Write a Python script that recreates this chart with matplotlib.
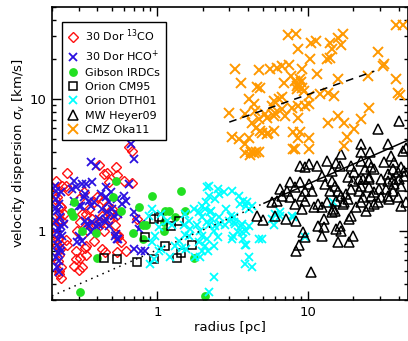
import numpy as np
import matplotlib
matplotlib.use("Agg")
import matplotlib.pyplot as plt
from matplotlib.ticker import FixedLocator, LogLocator, NullFormatter, FixedFormatter

# === dados (raio [pc], dispersao [km/s]) ===
r_13co = [0.647, 0.678, 0.41, 0.252, 0.464, 0.53, 0.54, 0.678, 0.60, 0.248, 0.256, 0.326, 0.302, 0.398,
          0.442, 0.464, 0.50, 0.49, 0.53, 0.478, 0.352, 0.335, 0.368, 0.422, 0.442, 0.392, 0.362, 0.429,
          0.53, 0.55, 0.575, 0.233, 0.24, 0.248, 0.252, 0.335, 0.289, 0.335, 0.28, 0.316, 0.289, 0.223,
          0.23, 0.618, 0.213, 0.216, 0.216, 0.23, 0.223, 0.213, 0.216, 0.223, 0.22, 0.23, 0.223, 0.233,
          0.226, 0.38, 0.316, 0.306, 0.357, 0.293, 0.316, 0.331, 0.306, 0.302, 0.38, 0.429, 0.45, 0.54,
          0.732, 0.52, 0.55, 0.442, 0.478, 0.21, 0.22, 0.21, 0.22, 0.226]
s_13co = [4.32, 4.03, 3.15, 2.74, 2.74, 3.05, 2.65, 2.30, 2.38, 2.19, 2.03, 1.97, 1.74, 1.80,
          1.68, 1.54, 1.46, 1.34, 1.29, 1.23, 1.46, 1.34, 1.23, 1.17, 1.0, 1.11, 1.11, 1.29,
          0.944, 0.90, 0.82, 1.19, 1.34, 0.85, 0.79, 0.77, 0.70, 0.66, 0.54, 0.53, 0.61, 0.50,
          0.44, 0.70, 2.38, 2.07, 1.80, 1.51, 1.34, 0.944, 0.79, 0.66, 0.59, 0.53, 0.47, 2.19,
          1.54, 1.65, 1.34, 1.17, 1.09, 1.0, 0.94, 0.75, 0.63, 0.51, 0.835, 0.73, 0.69, 0.69,
          1.23, 1.11, 0.94, 2.71, 2.34, 1.74, 1.19, 1.07, 0.865, 0.726]

r_hco = [0.665, 0.70, 0.362, 0.392, 0.28, 0.335, 0.289, 0.457, 0.492, 0.213, 0.23, 0.326, 0.352, 0.31,
         0.362, 0.422, 0.457, 0.478, 0.54, 0.582, 0.618, 0.429, 0.464, 0.50, 0.515, 0.55, 0.457, 0.70,
         0.72, 0.78, 0.755, 0.341, 0.368, 0.392, 0.41, 0.362, 0.23, 0.24, 0.216, 0.233, 0.302, 0.316,
         0.293, 0.53, 0.54, 0.70, 0.78, 0.827, 0.216, 0.23, 0.223, 0.213, 0.272, 0.316, 0.368, 0.331,
         0.28, 0.38, 0.302, 0.60, 0.647, 0.41, 0.45, 0.478, 0.331, 0.352, 0.52, 0.55,
         0.213, 0.223, 0.216, 0.226, 0.213, 0.22, 0.226, 0.216, 0.223, 0.21, 0.22, 0.213, 0.226, 0.22]
s_hco = [4.56, 3.5, 3.32, 3.10, 2.38, 2.26, 2.15, 2.15, 1.97, 2.0, 1.97, 1.80, 1.68, 1.54,
         1.54, 1.90, 1.80, 1.65, 1.74, 1.6, 1.68, 1.46, 1.39, 1.46, 1.29, 1.34, 1.23, 1.39,
         1.23, 1.13, 1.03, 1.13, 1.17, 1.09, 1.11, 0.98, 1.09, 1.13, 0.98, 0.91, 0.91, 0.835,
         0.82, 0.944, 0.865, 0.726, 0.70, 0.70, 0.79, 0.70, 0.59, 0.64, 2.07, 2.26, 2.34, 1.90,
         1.68, 1.65, 1.54, 1.83, 2.26, 1.23, 1.17, 1.09, 1.19, 1.09, 0.91, 0.865,
         1.74, 1.60, 1.43, 1.27, 1.19, 0.865, 0.75, 0.53, 0.49, 2.2, 1.05, 1.5, 0.95, 0.68]

r_gibson = [0.53, 0.92, 0.51, 0.575, 0.755, 0.28, 0.268, 0.276, 0.316, 0.392, 0.69, 0.80, 0.84,
            0.80, 0.398, 0.306, 1.43, 1.12, 1.19, 1.52, 1.31, 1.10, 1.10, 1.74, 2.06]
s_gibson = [2.38, 1.83, 1.80, 1.41, 1.51, 1.65, 1.39, 1.31, 1.0, 0.96, 0.96, 1.11, 1.11,
            0.865, 0.63, 0.343, 2.0, 1.41, 1.41, 1.41, 1.27, 1.17, 1.0, 0.63, 0.32]

r_cm95 = [0.442, 0.54, 0.732, 0.95, 0.83, 0.95, 1.02, 1.12, 1.23, 1.39, 1.35, 1.43, 1.69]
s_cm95 = [0.63, 0.61, 0.58, 0.61, 0.90, 1.23, 1.27, 0.77, 1.09, 1.19, 0.63, 0.68, 0.79]

r_dth01 = [2.13, 2.19, 2.52, 2.56, 2.75, 3.11, 2.41, 2.19, 2.09, 3.46, 3.68, 3.92, 3.51, 3.86, 4.04,
           1.74, 1.97, 1.88, 2.06, 2.23, 2.26, 1.97, 2.30, 2.13, 2.56, 2.6, 2.41, 2.8, 2.97, 3.2,
           2.84, 3.06, 3.2, 3.57, 3.41, 3.86, 3.68, 3.86, 3.16, 3.26, 3.63, 4.04, 3.63,
           1.52, 1.61, 1.5, 1.64, 1.52, 1.39, 1.45, 1.31, 1.82, 1.61, 1.56, 1.21,
           1.91, 1.97, 2.13, 1.88, 2.06, 1.97, 1.91, 1.77, 2.19, 2.37, 2.52, 2.37, 2.16,
           3.11, 3.8, 4.7, 3.8, 4.22, 4.04, 2.37, 2.19,
           0.96, 1.02, 0.92, 1.15, 1.25, 0.92, 0.88, 1.05, 1.05, 1.02, 0.95, 0.89,
           6.0, 6.47, 5.73, 5.9, 8.0, 4.92, 9.5, 4.22, 6.48, 7.77, 14.7]
s_dth01 = [2.15, 2.19, 2.07, 1.9, 1.97, 2.0, 1.74, 1.83, 1.65, 1.83, 1.68, 1.65, 1.6, 1.54, 1.46,
           1.46, 1.54, 1.39, 1.46, 1.39, 1.41, 1.27, 1.23, 1.17, 1.27, 1.13, 1.09, 1.11, 1.19, 1.27,
           1.46, 1.29, 1.17, 1.09, 0.98, 0.995, 0.865, 0.79, 0.91, 1.13, 1.13, 1.09, 0.98,
           1.34, 1.19, 1.11, 1.03, 0.94, 0.835, 0.75, 0.77, 1.11, 0.91, 0.73, 0.64,
           1.0, 0.91, 0.865, 0.82, 0.77, 0.70, 0.64, 0.64, 1.11, 1.0, 0.90, 0.77, 0.70,
           0.865, 0.79, 0.865, 0.56, 0.53, 0.64, 0.445, 0.343,
           0.91, 1.07, 0.82, 1.19, 1.11, 1.46, 1.29, 1.34, 0.726, 0.70, 0.61, 0.56,
           1.34, 1.39, 1.23, 1.11, 1.27, 0.865, 0.90, 1.54, 1.29, 1.29, 1.65]

r_heyer = [40.3, 29.3, 22.6, 34.1, 44.8, 25.9, 22.6, 16.6, 42.8, 13.3, 10.2, 11.4, 9.5, 8.8,
           15.4, 16.2, 14.3, 19.4, 20.3, 18.5, 20.0, 21.6, 22.6, 23.7, 25.2, 26.3, 27.5, 25.5, 23.3,
           25.2, 32.0, 35.7, 37.4, 36.8, 34.1, 39.7, 41.5, 43.4, 40.3, 43.4, 36.8, 34.1, 30.6,
           12.3, 14.3, 12.9, 15.0, 13.9, 7.55, 8.78, 10.1, 8.14, 9.5, 10.55, 9.06,
           6.48, 7.2, 6.68, 5.73, 6.18, 7.55, 9.5, 8.14, 9.06, 10.9, 11.7, 12.3, 13.3,
           15.9, 16.6, 17.9, 17.4, 15.4, 14.7, 14.3, 17.1, 18.5, 15.0,
           19.4, 21.6, 22.6, 25.2, 23.3, 26.3, 27.5, 30.6, 34.1, 29.7, 33.0, 36.8, 37.4, 41.5, 39.7,
           34.6, 29.3, 25.2, 22.6, 20.9, 24.4, 27.5, 41.5, 44.8,
           4.55, 5.0, 6.0, 7.1, 8.26, 9.2, 9.5, 8.65, 8.26,
           12.7, 11.7, 12.7, 12.3, 19.4, 18.8, 16.2, 15.4, 16.6, 15.9, 18.8, 20.0, 10.4]
s_heyer = [6.8, 5.9, 4.6, 4.55, 4.3, 4.0, 3.96, 3.82, 4.03, 3.38, 3.2, 3.1, 3.04, 3.1,
           3.3, 3.1, 2.84, 3.1, 2.79, 2.56, 2.38, 2.47, 3.38, 2.94, 3.32, 3.05, 2.94, 2.56, 2.47,
           2.47, 3.32, 3.69, 3.32, 2.94, 2.71, 2.79, 3.05, 2.84, 2.47, 2.6, 2.47, 2.38, 2.47,
           2.6, 2.38, 2.26, 2.19, 2.0, 2.34, 2.34, 2.26, 2.15, 2.0, 2.0, 1.83,
           2.07, 2.0, 1.83, 1.65, 1.68, 1.8, 1.68, 1.6, 1.46, 1.51, 1.6, 1.51, 1.65,
           2.0, 1.83, 1.9, 1.65, 1.68, 1.46, 1.39, 1.6, 1.74, 1.43,
           2.07, 2.0, 2.19, 2.15, 1.80, 1.83, 1.97, 1.80, 1.83, 2.07, 2.07, 2.0, 2.26, 2.19, 1.80,
           1.74, 1.65, 1.54, 1.65, 1.51, 1.41, 1.6, 1.54, 1.65,
           1.29, 1.21, 1.29, 1.23, 1.19, 0.99, 0.9, 0.79, 0.70,
           1.23, 1.09, 1.07, 0.91, 1.29, 1.23, 1.09, 1.03, 0.995, 0.82, 0.82, 0.91, 0.49]

r_oka = [7.4, 8.3, 8.6, 10.5, 11.2, 13.9, 15.9, 17.1, 14.3, 16.6, 10.3, 13.3, 13.9, 3.26, 4.69,
         5.56, 6.19, 6.68, 7.43, 9.06, 11.4, 3.57, 4.77, 7.66, 8.8, 8.6, 9.06, 8.4, 9.4, 6.9,
         6.68, 6.38, 5.9, 4.03, 4.35, 10.1, 12.0, 13.6, 14.9, 15.8, 25.1, 29.2, 32.0, 31.5, 38.5,
         39.7, 40.4, 38.5, 42.8, 25.5, 2.97, 3.8, 4.42, 5.18, 5.73, 6.0, 6.68, 7.77, 8.6, 9.5,
         10.1, 4.22, 4.69, 5.3, 5.9, 7.0, 8.6, 4.54, 4.77, 5.4, 5.9, 3.11, 3.5, 4.03, 3.8,
         4.92, 5.3, 8.0, 8.8, 8.6, 10.1, 13.6, 15.8, 17.4, 20.3, 22.6, 18.0, 17.4, 8.0, 8.2,
         10.1, 3.8, 4.35, 4.69, 4.5, 8.2, 8.5, 8.95, 4.6, 4.2, 4.1]
s_oka = [30.6, 31.2, 24.0, 26.6, 27.6, 26.6, 29.1, 31.2, 24.0, 25.8, 20.1, 20.1, 20.5, 16.9, 16.6,
         16.9, 17.2, 17.8, 18.1, 16.9, 15.5, 13.3, 12.1, 15.0, 14.2, 13.0, 12.1, 11.9, 11.5, 13.3,
         10.3, 10.1, 9.7, 10.0, 9.2, 10.5, 10.9, 11.1, 10.5, 14.2, 15.0, 22.8, 18.4, 17.8, 14.2,
         11.1, 10.8, 36.5, 36.5, 8.55, 7.8, 7.7, 8.1, 7.7, 8.85, 7.8, 8.4, 8.55, 8.85, 8.85,
         9.2, 6.6, 7.05, 7.2, 7.5, 7.5, 7.2, 6.0, 5.7, 5.5, 5.7, 5.2, 5.0, 5.05, 4.6,
         5.5, 5.4, 5.6, 5.6, 5.05, 5.1, 6.6, 7.5, 6.6, 5.9, 7.05, 5.2, 4.4, 4.17, 4.17,
         4.17, 3.9, 3.9, 4.0, 3.95, 13.7, 12.6, 13.5, 12.4, 3.95, 3.8]

# relacoes de referencia
r_larson_dot = [0.2, 5.1]
r_larson_sol = [5.1, 46.0]
r_oka_fit = [3.0, 27.5]
s_oka_fit = [6.7, 16.3]
larson_coef = 0.72

# === figura ===
fig = plt.figure(figsize=(4.08, 3.41), dpi=100)
ax = fig.add_axes([52 / 408, 41 / 341, 356 / 408, 293 / 341])
ax.set_xscale('log')
ax.set_yscale('log')
ax.set_xlim(0.2, 46)
ax.set_ylim(0.3, 50)

ax.plot(r_13co, s_13co, ls='none', marker='D', ms=5.2, mfc='none', mec='#ff1010', mew=1.0,
        label='30 Dor $^{13}$CO')
ax.plot(r_hco, s_hco, ls='none', marker='x', ms=6.4, mec='#2a10e0', mew=1.3,
        label='30 Dor HCO$^{+}$')
ax.plot(r_gibson, s_gibson, ls='none', marker='o', ms=5.3, mfc='#22e022', mec='#22e022',
        label='Gibson IRDCs')
ax.plot(r_cm95, s_cm95, ls='none', marker='s', ms=6, mfc='none', mec='black', mew=1.1,
        label='Orion CM95')
ax.plot(r_dth01, s_dth01, ls='none', marker='x', ms=6.2, mec='#00ffff', mew=1.3,
        label='Orion DTH01')
ax.plot(r_heyer, s_heyer, ls='none', marker='^', ms=7.5, mfc='none', mec='black', mew=1.1,
        label='MW Heyer09')
ax.plot(r_oka, s_oka, ls='none', marker='x', ms=7.2, mec='#ff9900', mew=1.4,
        label='CMZ Oka11')

# linhas por cima dos pontos
rd = np.array(r_larson_dot)
rs = np.array(r_larson_sol)
ax.plot(rd, larson_coef * rd ** 0.5, color='black', ls=(0, (1, 3)), lw=1.1, zorder=4)
ax.plot(rs, larson_coef * rs ** 0.5, color='black', ls='-', lw=1.1, zorder=4)
ax.plot(r_oka_fit, s_oka_fit, color='black', ls=(0, (5, 4)), lw=1.1, zorder=4)

# eixos
for a in (ax.xaxis, ax.yaxis):
    a.set_major_locator(FixedLocator([1, 10]))
    a.set_major_formatter(FixedFormatter(['1', '10']))
    a.set_minor_locator(LogLocator(base=10, subs=np.arange(2, 10), numticks=20))
    a.set_minor_formatter(NullFormatter())
ax.tick_params(which='both', direction='in', top=True, right=True, width=1.0, labelsize=9.5)
ax.tick_params(which='major', length=6.5, pad=4)
ax.tick_params(which='minor', length=3.2)
for s in ax.spines.values():
    s.set_linewidth(1.2)

ax.set_xlabel('radius [pc]', fontsize=9.5, labelpad=2)
ax.set_ylabel(r'velocity dispersion $\boldsymbol{\sigma_v}$ [km/s]', fontsize=9.5, labelpad=2)

leg = ax.legend(loc='upper left', bbox_to_anchor=(0.028, 0.949), borderaxespad=0,
                fontsize=8, frameon=True, fancybox=False, framealpha=1, edgecolor='black',
                handlelength=1.0, handletextpad=0.6, labelspacing=0.38, borderpad=0.5,
                numpoints=1)
leg.get_frame().set_linewidth(1.0)
leg.set_zorder(5)

fig.savefig('out.png', dpi=100)
